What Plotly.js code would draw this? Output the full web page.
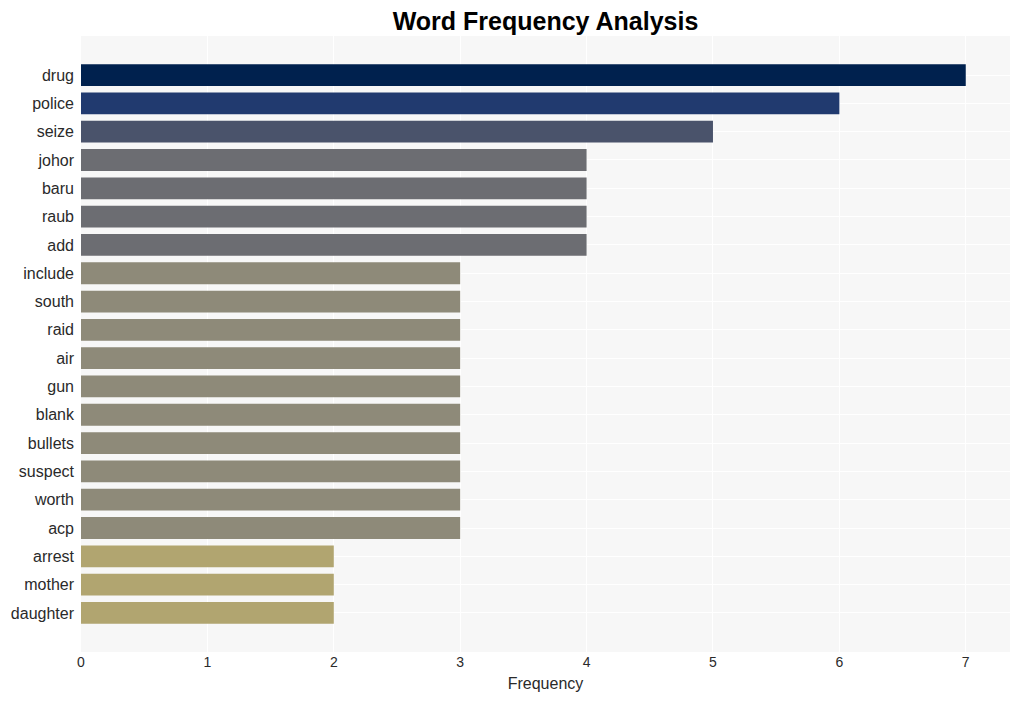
<!DOCTYPE html>
<html><head><meta charset="utf-8">
<script src="https://cdn.plot.ly/plotly-3.0.1.min.js"></script>
<style>html,body{margin:0;padding:0;background:#fff}</style>
</head><body>
<div id="chart" style="width:1020px;height:701px"></div>
<script>
const words = ["drug","police","seize","johor","baru","raub","add","include","south","raid","air","gun","blank","bullets","suspect","worth","acp","arrest","mother","daughter"];
const counts = [7,6,5,4,4,4,4,3,3,3,3,3,3,3,3,3,3,2,2,2];
const barColors = ["#00214e","#213a6f","#4a536b","#6c6d72","#6c6d72","#6c6d72","#6c6d72","#8e8a79","#8e8a79","#8e8a79","#8e8a79","#8e8a79","#8e8a79","#8e8a79","#8e8a79","#8e8a79","#8e8a79","#b1a570","#b1a570","#b1a570"];

Plotly.newPlot("chart", [{
  type: "bar",
  orientation: "h",
  x: counts,
  y: words,
  marker: {color: barColors},
  hoverinfo: "x+y"
}], {
  width: 1020, height: 701,
  margin: {l: 81, r: 10, t: 36, b: 49},
  paper_bgcolor: "#ffffff",
  plot_bgcolor: "#f7f7f7",
  bargap: 0.23,
  font: {family: "Liberation Sans, Arial, sans-serif", color: "#2a2a2a"},
  title: {text: "<b>Word Frequency Analysis</b>", x: 0.5, xref: "paper", xanchor: "center", y: 0.982, yanchor: "top", font: {size: 25, color: "#000"}},
  xaxis: {
    range: [0, 7.35], dtick: 1, tick0: 0,
    showgrid: true, gridcolor: "#ffffff", gridwidth: 1,
    zeroline: false, showline: false,
    ticks: "", tickfont: {size: 14},
    title: {text: "Frequency", font: {size: 16}, standoff: 8}
  },
  yaxis: {
    type: "category",
    range: [20.38, -1.38],
    showgrid: true, gridcolor: "#ffffff", gridwidth: 1,
    zeroline: false, showline: false,
    ticks: "", ticklabelstandoff: 6, tickfont: {size: 16},
    automargin: false
  },
  showlegend: false
}, {displayModeBar: false});
</script>
</body></html>
